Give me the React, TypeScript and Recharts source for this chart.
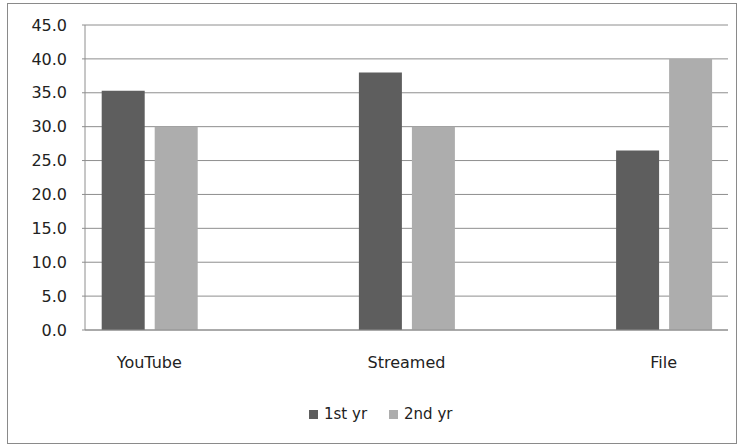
import { Bar, BarChart, CartesianGrid, XAxis, YAxis } from 'recharts';

const categories = ['YouTube', 'Streamed', 'File'];
const seriesNames = ['1st yr', '2nd yr'];
const firstYear = [35.3, 38.0, 26.5];
const secondYear = [30.0, 30.0, 40.0];
const yTicks = [0, 5, 10, 15, 20, 25, 30, 35, 40, 45];

const DARK = '#5e5e5e';
const LIGHT = '#adadad';
const GRID = '#8e8e8e';
const FONT = '"DejaVu Sans", sans-serif';
const seriesColors = [DARK, LIGHT];

const data = categories.map((name, idx) => ({
  idx,
  name,
  first: firstYear[idx],
  second: secondYear[idx],
}));

function LegendRow() {
  return (
    <div
      style={{
        position: 'absolute',
        left: 309,
        top: 405,
        display: 'flex',
        alignItems: 'center',
        fontFamily: FONT,
        fontSize: 15,
        color: '#222',
      }}
    >
      {seriesNames.map((label, i) => (
        <div key={label} style={{ display: 'flex', alignItems: 'center', marginRight: 22 }}>
          <span style={{ display: 'inline-block', width: 9, height: 9, background: seriesColors[i], marginRight: 6 }} />
          <span>{label}</span>
        </div>
      ))}
    </div>
  );
}

export default function App() {
  return (
    <div style={{ position: 'absolute', left: 0, top: 0, width: 738, height: 448, background: '#fff' }}>
      <div
        style={{
          position: 'absolute',
          left: 7,
          top: 3,
          width: 728,
          height: 439,
          border: '1px solid #8a8a8a',
        }}
      />
      <div style={{ position: 'absolute', left: 0, top: 0 }}>
        <BarChart
          width={738}
          height={448}
          data={data}
          margin={{ top: 25, right: 10, bottom: 58, left: 0 }}
          barGap={10}
          barSize={43}
        >
          <CartesianGrid vertical={false} stroke={GRID} />
          <XAxis
            dataKey="idx"
            type="number"
            domain={[-0.25, 2.25]}
            ticks={[0, 1, 2]}
            tickFormatter={(i: number) => categories[i] ?? ''}
            axisLine={{ stroke: GRID }}
            tickLine={false}
            tickSize={0}
            tickMargin={27}
            tick={{ fill: '#222', fontFamily: FONT, fontSize: 16 }}
            height={60}
          />
          <YAxis
            domain={[0, 45]}
            ticks={yTicks}
            tickFormatter={(v: number) => v.toFixed(1)}
            axisLine={{ stroke: GRID }}
            tickLine={{ stroke: GRID }}
            tickSize={3}
            tickMargin={15}
            tick={{ fill: '#222', fontFamily: FONT, fontSize: 16 }}
            width={85}
          />
          <Bar dataKey="first" name={seriesNames[0]} fill={DARK} isAnimationActive={false} />
          <Bar dataKey="second" name={seriesNames[1]} fill={LIGHT} isAnimationActive={false} />
        </BarChart>
      </div>
      <LegendRow />
    </div>
  );
}
